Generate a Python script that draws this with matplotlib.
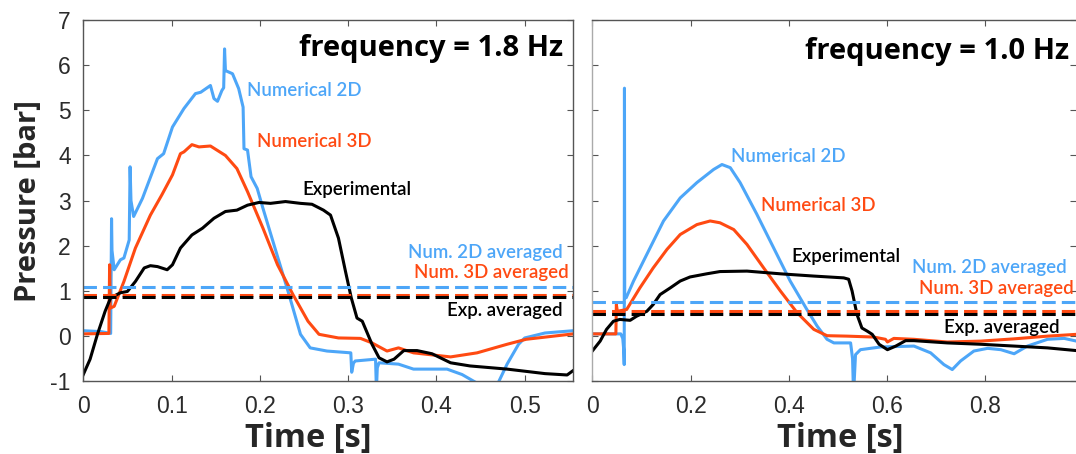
import numpy as np
import matplotlib
matplotlib.use("Agg")
import matplotlib.pyplot as plt

blue = '#4da6f8'
orange = '#ff4a12'
black = '#000000'

# ---- frequency = 1.8 Hz ----
t2d_18 = [0, 0.02, 0.031, 0.032, 0.0325, 0.035, 0.042, 0.046, 0.052, 0.053, 0.054, 0.057,
          0.067, 0.084, 0.091, 0.101, 0.114, 0.127, 0.133, 0.144, 0.148, 0.152, 0.157, 0.159,
          0.160, 0.161, 0.169, 0.176, 0.181, 0.182, 0.186, 0.19, 0.197, 0.2035, 0.233, 0.246,
          0.257, 0.276, 0.303, 0.304, 0.306, 0.308, 0.331, 0.332, 0.333, 0.335, 0.357, 0.374,
          0.412, 0.429, 0.445, 0.457, 0.47, 0.48, 0.493, 0.50, 0.523, 0.555]
p2d_18 = [0.12, 0.1, 0.06, 2.6, 1.9, 1.47, 1.69, 1.73, 2.13, 3.75, 3.0, 2.65,
          3.05, 3.93, 4.04, 4.63, 5.04, 5.37, 5.4, 5.55, 5.26, 5.2, 5.44, 5.5,
          6.36, 5.88, 5.81, 5.48, 5.07, 4.15, 4.12, 3.53, 3.27, 2.83, 0.92, 0.04,
          -0.26, -0.33, -0.37, -0.8, -0.6, -0.55, -0.51, -1.2, -0.7, -0.59, -0.62, -0.73,
          -0.73, -0.85, -1.03, -1.3, -1.03, -0.62, -0.18, -0.04, 0.07, 0.12]

t3d_18 = [0, 0.029, 0.0298, 0.0305, 0.035, 0.046, 0.059, 0.076, 0.089, 0.101, 0.110, 0.114,
          0.123, 0.131, 0.144, 0.161, 0.174, 0.186, 0.2035, 0.22, 0.2375, 0.2545, 0.267,
          0.289, 0.314, 0.327, 0.344, 0.357, 0.374, 0.416, 0.446, 0.48, 0.5015, 0.555]
p3d_18 = [0.05, 0.06, 1.58, 0.62, 0.66, 1.21, 1.95, 2.68, 3.13, 3.57, 4.04, 4.08,
          4.24, 4.19, 4.21, 4.0, 3.71, 3.2, 2.39, 1.58, 0.92, 0.33, 0.04,
          -0.04, -0.05, -0.15, -0.33, -0.26, -0.37, -0.46, -0.37, -0.18, -0.07, 0.05]

texp_18 = [0, 0.0077, 0.016, 0.0247, 0.031, 0.042, 0.050, 0.059, 0.069, 0.076, 0.084, 0.095,
           0.101, 0.110, 0.123, 0.135, 0.148, 0.161, 0.174, 0.186, 0.199, 0.212, 0.229, 0.246,
           0.259, 0.272, 0.280, 0.289, 0.297, 0.3035, 0.31, 0.316, 0.327, 0.335, 0.344, 0.352,
           0.363, 0.378, 0.395, 0.416, 0.438, 0.48, 0.523, 0.548, 0.555]
pexp_18 = [-0.85, -0.51, 0.04, 0.55, 0.85, 0.96, 0.99, 1.21, 1.51, 1.56, 1.54, 1.47,
           1.58, 1.95, 2.24, 2.39, 2.61, 2.76, 2.79, 2.90, 2.96, 2.94, 2.98, 2.94,
           2.92, 2.79, 2.68, 2.17, 1.43, 0.85, 0.40, 0.33, -0.18, -0.48, -0.57, -0.51,
           -0.32, -0.32, -0.39, -0.59, -0.66, -0.73, -0.83, -0.86, -0.76]

avg_18 = {'2d': 1.09, '3d': 0.90, 'exp': 0.86}

# ---- frequency = 1.0 Hz ----
t2d_10 = [0, 0.058, 0.062, 0.064, 0.065, 0.0655, 0.066, 0.069, 0.084, 0.111, 0.145, 0.179,
          0.213, 0.247, 0.264, 0.281, 0.301, 0.335, 0.369, 0.403, 0.437, 0.458, 0.478, 0.492,
          0.526, 0.530, 0.532, 0.536, 0.546, 0.587, 0.655, 0.689, 0.716, 0.733, 0.75, 0.777,
          0.805, 0.832, 0.859, 0.886, 0.927, 0.961, 0.986]
p2d_10 = [0.05, 0.05, -0.05, -0.3, -0.63, 5.49, 0.85, 0.85, 1.22, 1.81, 2.55, 3.06,
          3.4, 3.69, 3.8, 3.73, 3.40, 2.70, 1.96, 1.22, 0.59, 0.22, -0.07, -0.15,
          -0.15, -0.5, -1.3, -0.41, -0.30, -0.24, -0.22, -0.37, -0.63, -0.74, -0.55, -0.33,
          -0.27, -0.30, -0.39, -0.22, -0.07, -0.05, -0.11]

t3d_10 = [0, 0.048, 0.049, 0.051, 0.07, 0.097, 0.124, 0.152, 0.179, 0.213, 0.240, 0.26,
          0.288, 0.315, 0.349, 0.383, 0.417, 0.451, 0.478, 0.519, 0.573, 0.597, 0.601,
          0.614, 0.655, 0.723, 0.791, 0.859, 0.927, 0.986]
p3d_10 = [0.05, 0.05, 0.70, 0.55, 0.59, 1.07, 1.51, 1.92, 2.25, 2.47, 2.55, 2.51,
          2.36, 2.03, 1.51, 1.0, 0.52, 0.15, 0.01, 0.0, -0.02, -0.07, -0.13,
          -0.05, -0.07, -0.13, -0.11, -0.06, 0.0, 0.04]

texp_10 = [0, 0.016, 0.029, 0.043, 0.056, 0.077, 0.090, 0.111, 0.124, 0.138, 0.159, 0.179,
           0.199, 0.233, 0.26, 0.315, 0.383, 0.451, 0.512, 0.522, 0.529, 0.539, 0.549, 0.560,
           0.570, 0.584, 0.601, 0.618, 0.638, 0.655, 0.723, 0.791, 0.859, 0.927, 0.986]
pexp_10 = [-0.33, -0.11, 0.15, 0.33, 0.37, 0.35, 0.44, 0.55, 0.70, 0.92, 1.07, 1.22,
           1.31, 1.38, 1.43, 1.44, 1.38, 1.33, 1.29, 1.26, 1.0, 0.48, 0.18, 0.11,
           0.04, -0.18, -0.30, -0.22, -0.10, -0.10, -0.15, -0.18, -0.22, -0.26, -0.32]

avg_10 = {'2d': 0.75, '3d': 0.56, 'exp': 0.48}

plt.rcParams['font.family'] = ['Liberation Sans', 'DejaVu Sans']
lab_font = 'Lato'
big_font = 'Open Sans'

fig = plt.figure(figsize=(10.76, 4.54), dpi=100)
ax1 = fig.add_axes([83.3 / 1076, 1 - 381.3 / 454, 490 / 1076, 361.3 / 454])
ax2 = fig.add_axes([592.3 / 1076, 1 - 381.3 / 454, (1076 - 592.3) / 1076, 361.3 / 454])

lw = 2.2
for ax, t2, p2, t3, p3, te, pe, avg in [
        (ax1, t2d_18, p2d_18, t3d_18, p3d_18, texp_18, pexp_18, avg_18),
        (ax2, t2d_10, p2d_10, t3d_10, p3d_10, texp_10, pexp_10, avg_10)]:
    ax.plot(t2, p2, color=blue, lw=lw)
    ax.plot(t3, p3, color=orange, lw=lw)
    ax.plot(te, pe, color=black, lw=lw)
    ax.axhline(avg['2d'], color=blue, lw=lw, dashes=(4.4, 2.0))
    ax.axhline(avg['3d'], color=orange, lw=lw, dashes=(4.4, 2.0))
    ax.axhline(avg['exp'], color=black, lw=lw, dashes=(4.4, 2.0))
    ax.set_ylim(-1, 7)
    ax.set_yticks(range(-1, 8))
    ax.tick_params(direction='in', length=4, width=0.8, color='#555555',
                   labelsize=16.5, labelcolor='#2b2b2b', top=True, right=True)
    ax.tick_params(axis='x', pad=10)
    ax.tick_params(axis='y', pad=9)
    for s in ax.spines.values():
        s.set_color('#555555')
        s.set_linewidth(1.0)
    ax.set_xlabel('Time [s]', fontsize=23.5, fontweight='bold', family=big_font,
                  color='#262626', va='center')

ax1.set_xlim(0, 0.555)
ax1.set_xticks([0, 0.1, 0.2, 0.3, 0.4, 0.5])
ax1.set_xticklabels(['0', '0.1', '0.2', '0.3', '0.4', '0.5'])
ax1.set_yticklabels(['-1', '0', '1', '2', '3', '4', '5', '6', '7'])
ax1.set_ylabel('Pressure [bar]', fontsize=21, fontweight='bold', family=big_font, color='#262626')
ax1.yaxis.set_label_coords(-0.082, 0.5)
ax1.xaxis.set_label_coords(0.459, -0.157)

ax2.set_xlim(0, 0.985)
ax2.set_xticks([0, 0.2, 0.4, 0.6, 0.8])
ax2.set_xticklabels(['0', '0.2', '0.4', '0.6', '0.8'])
ax2.tick_params(labelleft=False)
ax2.spines['right'].set_visible(False)
ax2.spines['left'].set_color('#aaaaaa')
ax2.xaxis.set_label_coords(0.513, -0.157)

fs = 13.4
fq = 21
# left annotations
ax1.text(0.185, 5.32, 'Numerical 2D', color=blue, fontsize=fs, family=lab_font, fontweight='semibold')
ax1.text(0.197, 4.18, 'Numerical 3D', color=orange, fontsize=fs, family=lab_font, fontweight='semibold')
ax1.text(0.248, 3.12, 'Experimental', color=black, fontsize=fs, family=lab_font, fontweight='semibold')
ax1.text(0.5426, 1.74, 'Num. 2D averaged', color=blue, fontsize=fs, family=lab_font, fontweight='semibold', ha='right')
ax1.text(0.550, 1.28, 'Num. 3D averaged', color=orange, fontsize=fs, family=lab_font, fontweight='semibold', ha='right')
ax1.text(0.5426, 0.44, 'Exp. averaged', color=black, fontsize=fs, family=lab_font, fontweight='semibold', ha='right')
ax1.text(0.544, 6.21, 'frequency = 1.8 Hz', color=black, fontsize=fq, family=big_font, fontweight='bold', ha='right')

# right annotations
ax2.text(0.282, 3.86, 'Numerical 2D', color=blue, fontsize=fs, family=lab_font, fontweight='semibold')
ax2.text(0.344, 2.78, 'Numerical 3D', color=orange, fontsize=fs, family=lab_font, fontweight='semibold')
ax2.text(0.405, 1.65, 'Experimental', color=black, fontsize=fs, family=lab_font, fontweight='semibold')
ax2.text(0.966, 1.39, 'Num. 2D averaged', color=blue, fontsize=fs, family=lab_font, fontweight='semibold', ha='right')
ax2.text(0.980, 0.94, 'Num. 3D averaged', color=orange, fontsize=fs, family=lab_font, fontweight='semibold', ha='right')
ax2.text(0.952, 0.07, 'Exp. averaged', color=black, fontsize=fs, family=lab_font, fontweight='semibold', ha='right')
ax2.text(0.971, 6.13, 'frequency = 1.0 Hz', color=black, fontsize=fq, family=big_font, fontweight='bold', ha='right')

fig.savefig('out.png', dpi=100)
